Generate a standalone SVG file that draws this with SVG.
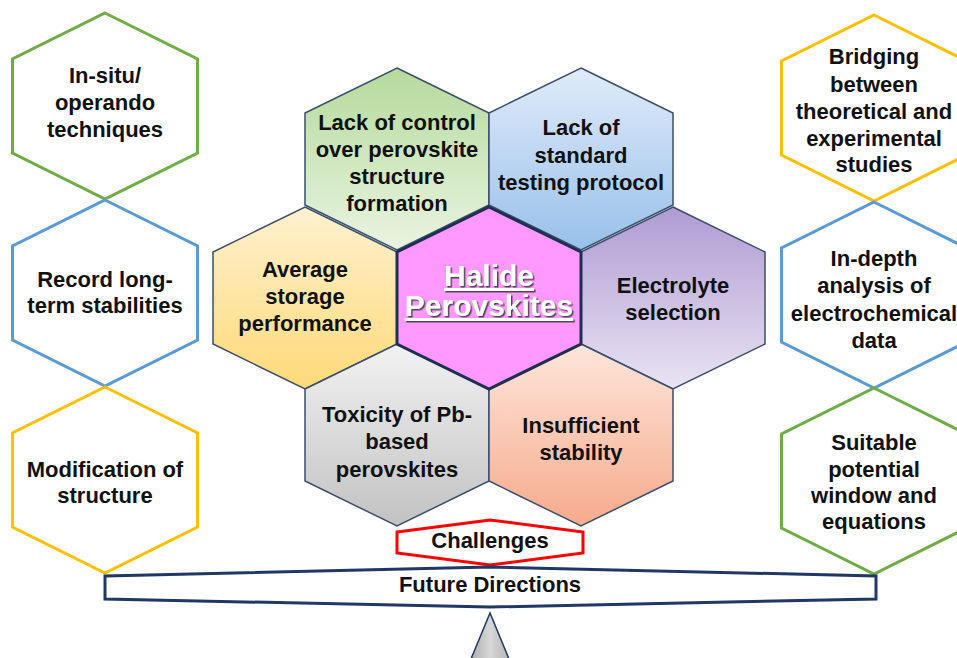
<svg xmlns="http://www.w3.org/2000/svg" width="957" height="658" viewBox="0 0 957 658">
  <defs>
    <style>
      text { font-family: "Liberation Sans", Arial, sans-serif; font-weight: bold; font-size: 22px; fill: #111; text-anchor: middle; }
      .outer { fill: #fff; stroke-width: 3; stroke-linejoin: miter; }
      .g { stroke: #70AD47; }
      .b { stroke: #5B9BD5; }
      .y { stroke: #FFC000; }
      .cell { stroke: #3B4E6B; stroke-width: 1.5; }
      .core { fill: #FF99FF; stroke: #1F2F50; stroke-width: 3; }
      .title { font-size: 30px; fill: #fff; filter: url(#titleShadow); }
      .band { fill: #fff; stroke: #1F3864; stroke-width: 3; }
    </style>
    <filter id="titleShadow" x="-10%" y="-20%" width="120%" height="150%">
      <feDropShadow dx="1.5" dy="1.5" stdDeviation="0.4" flood-color="#3A3A3A" flood-opacity="0.9"/>
    </filter>
    <linearGradient id="gGreen" x1="0" y1="0" x2="0" y2="1">
      <stop offset="0" stop-color="#B5DA9C"/><stop offset="1" stop-color="#E9F4E1"/>
    </linearGradient>
    <linearGradient id="gBlue" x1="0" y1="0" x2="0" y2="1">
      <stop offset="0" stop-color="#E0EBF9"/><stop offset="1" stop-color="#98C0EA"/>
    </linearGradient>
    <linearGradient id="gYellow" x1="0" y1="0" x2="0" y2="1">
      <stop offset="0" stop-color="#FFF1D0"/><stop offset="1" stop-color="#FDD978"/>
    </linearGradient>
    <linearGradient id="gPurple" x1="0" y1="0" x2="0" y2="1">
      <stop offset="0" stop-color="#AF9BD3"/><stop offset="1" stop-color="#E9E3F2"/>
    </linearGradient>
    <linearGradient id="gGray" x1="0" y1="0" x2="0" y2="1">
      <stop offset="0" stop-color="#F2F2F2"/><stop offset="1" stop-color="#C2C2C2"/>
    </linearGradient>
    <linearGradient id="gOrange" x1="0" y1="0" x2="0" y2="1">
      <stop offset="0" stop-color="#FDE6DA"/><stop offset="1" stop-color="#F6AA8C"/>
    </linearGradient>
    <linearGradient id="gFulcrum" x1="0" y1="0" x2="1" y2="0">
      <stop offset="0" stop-color="#A8A8A8"/><stop offset="0.5" stop-color="#D8D8D8"/><stop offset="1" stop-color="#B0B0B0"/>
    </linearGradient>
  </defs>

  <!-- Future directions: left column -->
  <g id="insitu">
    <polygon class="outer g" transform="translate(105,106)" points="0,-93 92.5,-47 92.5,47 0,93 -92.5,47 -92.5,-47"/>
    <text x="105" y="83">In-situ/</text>
    <text x="105" y="110">operando</text>
    <text x="105" y="137">techniques</text>
  </g>
  <g id="record-stability">
    <polygon class="outer b" transform="translate(105,293)" points="0,-93 92.5,-47 92.5,47 0,93 -92.5,47 -92.5,-47"/>
    <text x="105" y="287">Record long-</text>
    <text x="105" y="313">term stabilities</text>
  </g>
  <g id="modification">
    <polygon class="outer y" transform="translate(105,480)" points="0,-93 92.5,-47 92.5,47 0,93 -92.5,47 -92.5,-47"/>
    <text x="105" y="477">Modification of</text>
    <text x="105" y="503">structure</text>
  </g>

  <!-- Future directions: right column -->
  <g id="bridging">
    <polygon class="outer y" transform="translate(874,108)" points="0,-93 92.5,-47 92.5,47 0,93 -92.5,47 -92.5,-47"/>
    <text x="874" y="64">Bridging</text>
    <text x="874" y="92">between</text>
    <text x="874" y="119">theoretical and</text>
    <text x="874" y="146">experimental</text>
    <text x="874" y="172">studies</text>
  </g>
  <g id="in-depth">
    <polygon class="outer b" transform="translate(874,295)" points="0,-93 92.5,-47 92.5,47 0,93 -92.5,47 -92.5,-47"/>
    <text x="874" y="266">In-depth</text>
    <text x="874" y="293">analysis of</text>
    <text x="874" y="321">electrochemical</text>
    <text x="874" y="348">data</text>
  </g>
  <g id="potential-window">
    <polygon class="outer g" transform="translate(874,481)" points="0,-93 92.5,-47 92.5,47 0,93 -92.5,47 -92.5,-47"/>
    <text x="874" y="450">Suitable</text>
    <text x="874" y="477">potential</text>
    <text x="874" y="503">window and</text>
    <text x="874" y="529">equations</text>
  </g>

  <!-- Challenges honeycomb -->
  <g id="structure-control">
    <polygon class="cell" fill="url(#gGreen)" transform="translate(397,159)" points="0,-91 92,-46 92,46 0,91 -92,46 -92,-46"/>
    <text x="397" y="130">Lack of control</text>
    <text x="397" y="157">over perovskite</text>
    <text x="397" y="184">structure</text>
    <text x="397" y="211">formation</text>
  </g>
  <g id="testing-protocol">
    <polygon class="cell" fill="url(#gBlue)" transform="translate(581,159)" points="0,-91 92,-46 92,46 0,91 -92,46 -92,-46"/>
    <text x="581" y="135">Lack of</text>
    <text x="581" y="163">standard</text>
    <text x="581" y="190">testing protocol</text>
  </g>
  <g id="storage">
    <polygon class="cell" fill="url(#gYellow)" transform="translate(305,298)" points="0,-91 92,-46 92,46 0,91 -92,46 -92,-46"/>
    <text x="305" y="277">Average</text>
    <text x="305" y="304">storage</text>
    <text x="305" y="331">performance</text>
  </g>
  <g id="electrolyte">
    <polygon class="cell" fill="url(#gPurple)" transform="translate(673,298)" points="0,-91 92,-46 92,46 0,91 -92,46 -92,-46"/>
    <text x="673" y="293">Electrolyte</text>
    <text x="673" y="320">selection</text>
  </g>
  <g id="toxicity">
    <polygon class="cell" fill="url(#gGray)" transform="translate(397,435)" points="0,-91 92,-46 92,46 0,91 -92,46 -92,-46"/>
    <text x="397" y="422">Toxicity of Pb-</text>
    <text x="397" y="449">based</text>
    <text x="397" y="477">perovskites</text>
  </g>
  <g id="stability">
    <polygon class="cell" fill="url(#gOrange)" transform="translate(581,435)" points="0,-91 92,-46 92,46 0,91 -92,46 -92,-46"/>
    <text x="581" y="433">Insufficient</text>
    <text x="581" y="460">stability</text>
  </g>
  <g id="halide-perovskites">
    <polygon class="core" transform="translate(489,298)" points="0,-91 92,-46 92,46 0,91 -92,46 -92,-46"/>
    <text class="title" x="489" y="286" text-decoration="underline">Halide</text>
    <text class="title" x="489" y="316" text-decoration="underline">Perovskites</text>
  </g>

  <!-- Balance: challenges label, beam and fulcrum -->
  <g id="challenges">
    <polygon points="397,532 490,520 583,532 583,553 490,565 397,553" fill="#fff" stroke="#FF0000" stroke-width="3"/>
    <text x="490" y="548">Challenges</text>
  </g>
  <g id="future-directions">
    <polygon class="band" points="105,576 490,567 876,576 876,599 490,607 105,599"/>
    <text x="490" y="592">Future Directions</text>
  </g>
  <g id="fulcrum">
    <polygon points="490,613 468.5,665 511.5,665" fill="url(#gFulcrum)" stroke="#1F3864" stroke-width="1.5"/>
  </g>
</svg>
